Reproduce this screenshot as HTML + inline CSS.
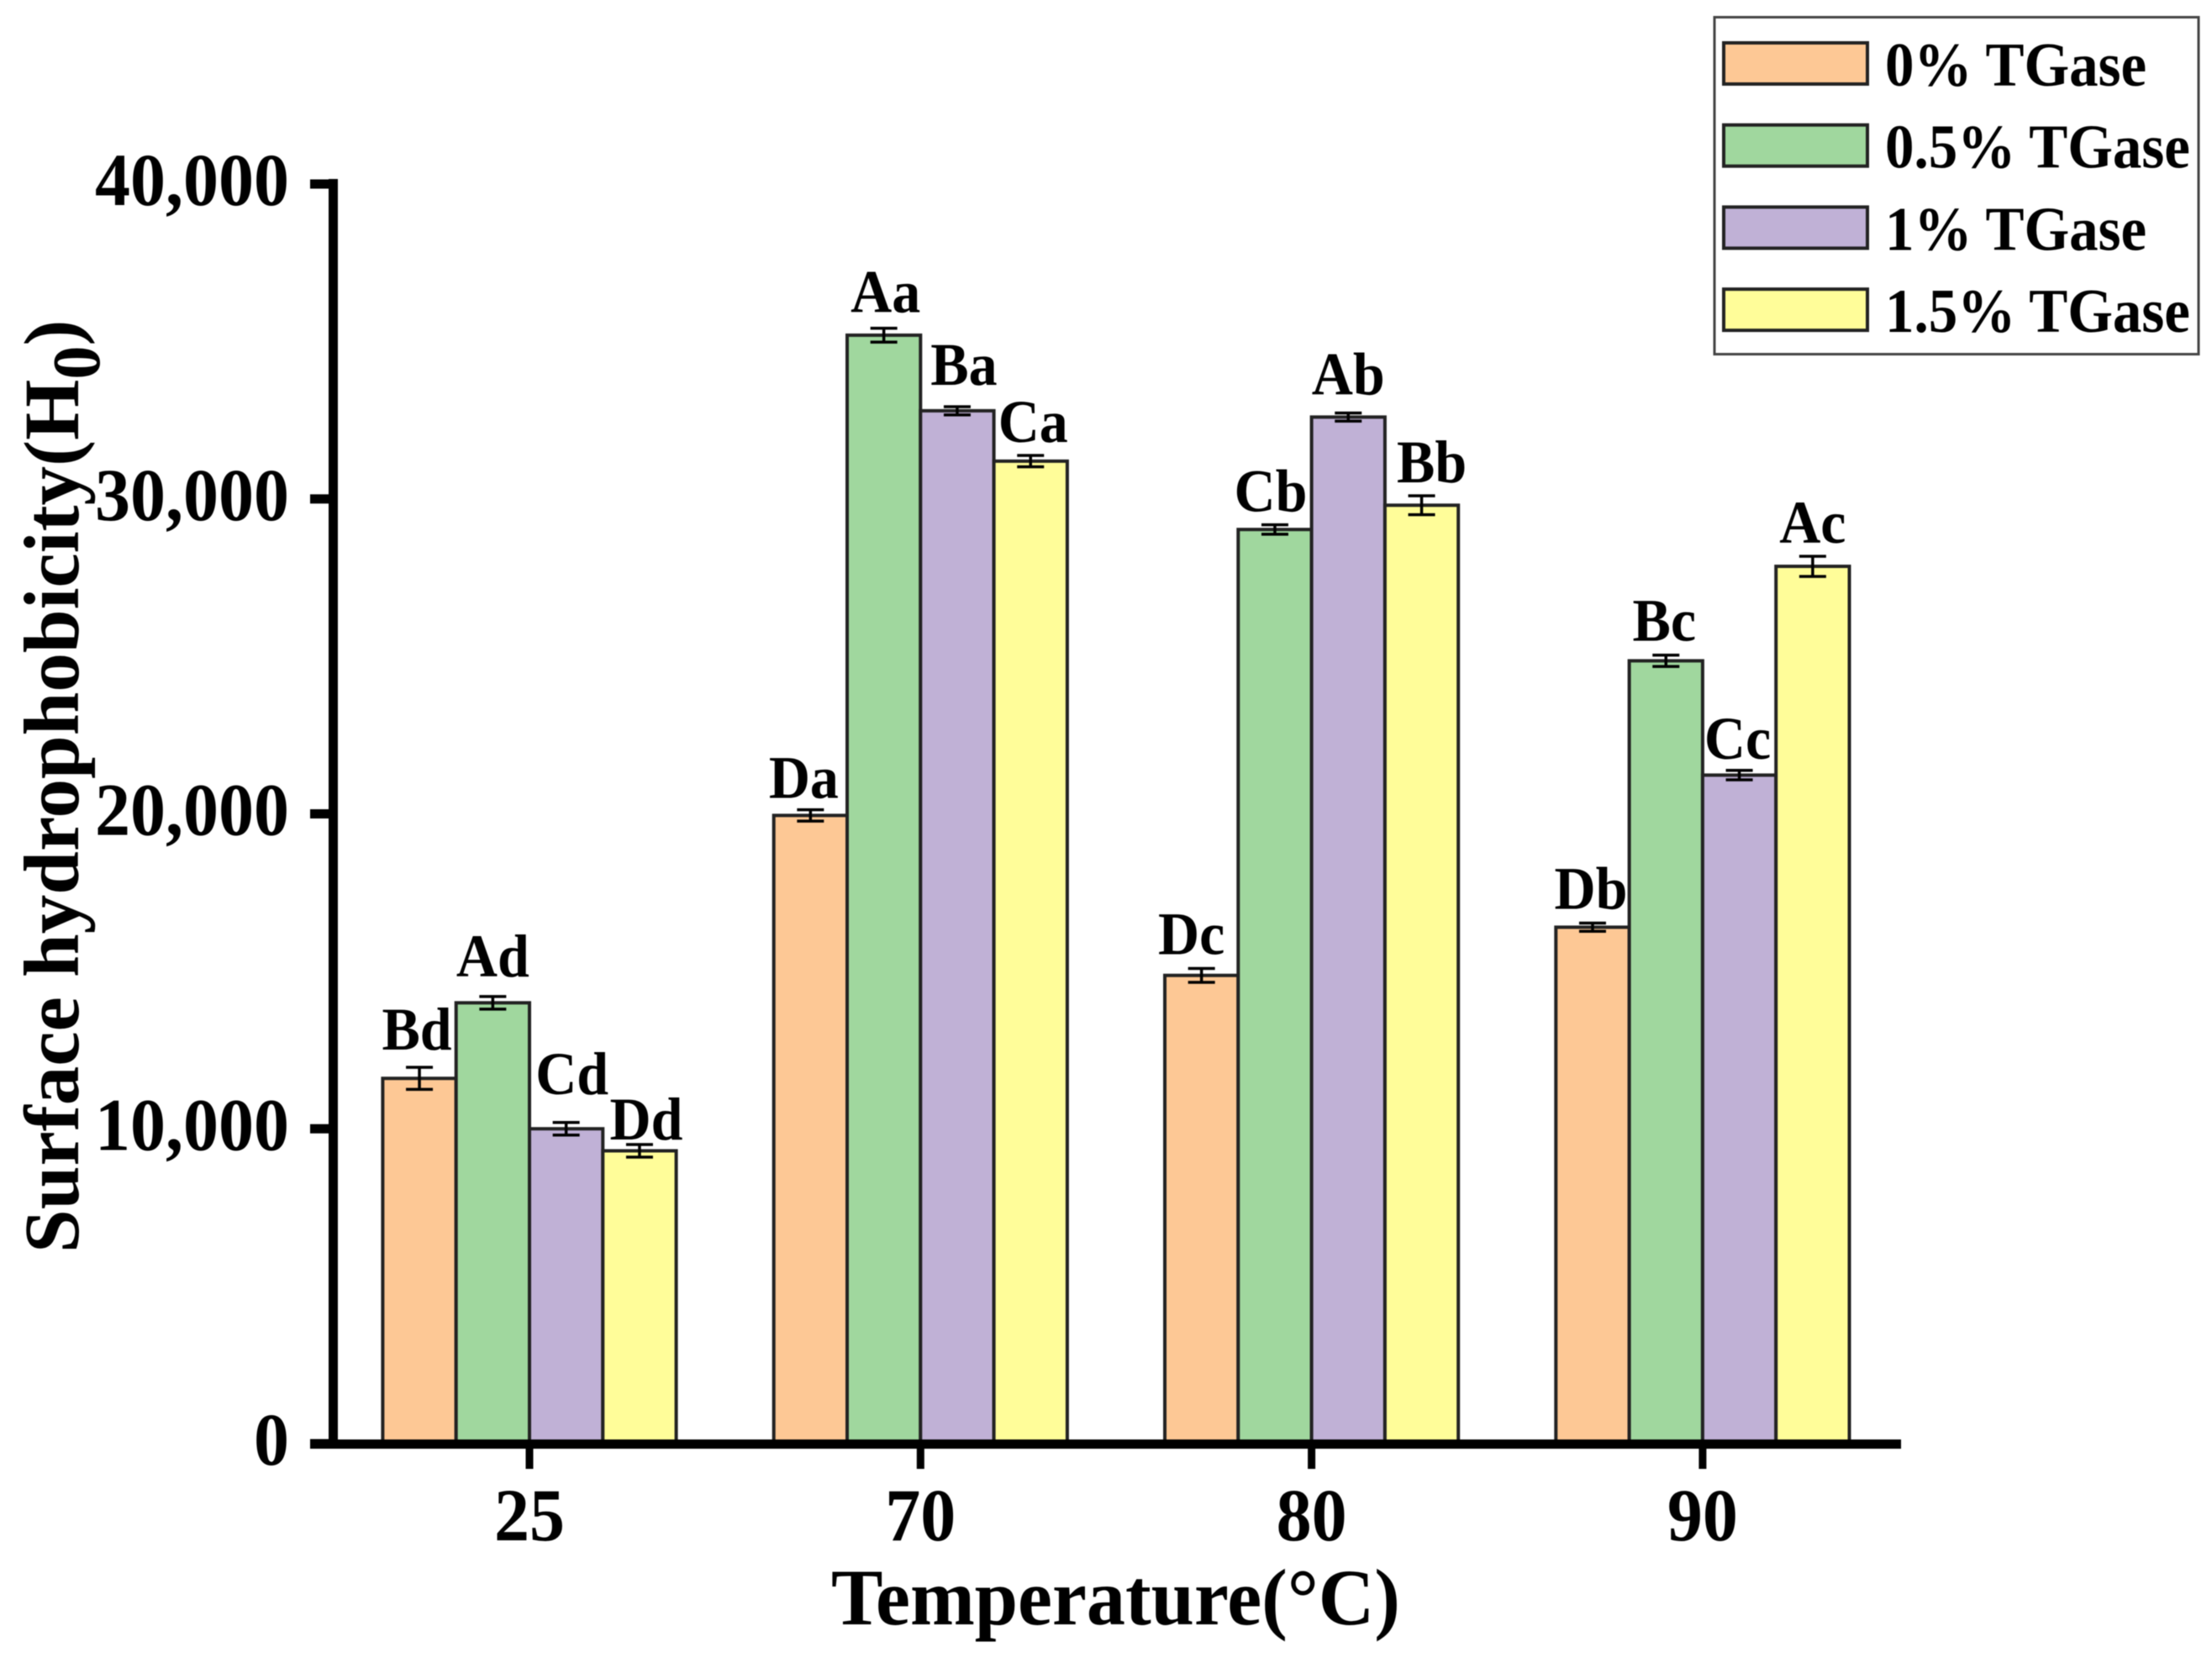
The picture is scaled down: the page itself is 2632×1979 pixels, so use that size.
<!DOCTYPE html>
<html lang="en">
<head>
<meta charset="utf-8">
<title>Surface hydrophobicity vs temperature</title>
<style>
html,body{margin:0;padding:0;background:#fff;}
svg{display:block;filter:blur(0.6px);}
text{font-family:"Liberation Serif","DejaVu Serif",serif;font-weight:bold;fill:#000;}
</style>
</head>
<body>
<svg id="chart" xmlns="http://www.w3.org/2000/svg" width="2632" height="1979" viewBox="0 0 2632 1979">
<rect x="0" y="0" width="2632" height="1979" fill="#fff"/>
<text transform="translate(989 1933) scale(1 1.04)" font-size="92" textLength="677" lengthAdjust="spacingAndGlyphs">Temperature(°C)</text>
<text transform="translate(93 1491) rotate(-90)" font-size="93">Surface hydrophobicity(H<tspan font-size="80" dy="25">0</tspan><tspan dy="-25">)</tspan></text>
</svg>
<script>
const categories = ['25', '70', '80', '90'];
const seriesNames = ['0% TGase', '0.5% TGase', '1% TGase', '1.5% TGase'];
const valuesTG0 = [11600, 19950, 14870, 16400];
const valuesTG05 = [14000, 35200, 29030, 24860];
const valuesTG1 = [10000, 32800, 32600, 21230];
const valuesTG15 = [9300, 31200, 29800, 27860];
const errorsTG0 = [350, 180, 220, 130];
const errorsTG05 = [200, 220, 150, 180];
const errorsTG1 = [200, 130, 130, 150];
const errorsTG15 = [200, 180, 300, 320];
const lettersTG0 = ['Bd', 'Da', 'Dc', 'Db'];
const lettersTG05 = ['Ad', 'Aa', 'Cb', 'Bc'];
const lettersTG1 = ['Cd', 'Ba', 'Ab', 'Cc'];
const lettersTG15 = ['Dd', 'Ca', 'Bb', 'Ac'];
const yTicks = [0, 10000, 20000, 30000, 40000];
const yTickLabels = ['0', '10,000', '20,000', '30,000', '40,000'];

const svg = document.getElementById('chart');
const NS = 'http://www.w3.org/2000/svg';
const seriesValues = [valuesTG0, valuesTG05, valuesTG1, valuesTG15];
const seriesErrors = [errorsTG0, errorsTG05, errorsTG1, errorsTG15];
const seriesLetters = [lettersTG0, lettersTG05, lettersTG1, lettersTG15];
const seriesFills = ['#FDC895', '#A0D79E', '#C0B1D6', '#FFFD99'];
const seriesKeys = ['0pct', '0-5pct', '1pct', '1-5pct'];

function yScale(v) { return 1718 - (v / 40000) * 1499; }
function xGroup(i) { return 630 + i * 465.3; }
const barW = 87.3;
function xBar(i, j) { return xGroup(i) + (j - 2) * barW; }

function make(tag, attrs, text) {
  const node = document.createElementNS(NS, tag);
  for (const k in attrs) node.setAttribute(k, attrs[k]);
  if (text !== undefined) node.textContent = text;
  svg.appendChild(node);
  return node;
}

function drawBars() {
  // placement tweaks for letter labels, in px relative to the error-bar default
  const liftY = [[7, 0, 3, 3], [10, 5, 2, 3], [20, 12, 8, 0], [-8, 2, 2, 2]];
  const shiftX = [[-3, -8, -12, -2], [0, 2, -5, -2], [7, 8, 0, -2], [8, 3, 12, 0]];
  seriesValues.forEach(function (vals, j) {
    vals.forEach(function (v, i) {
      const top = yScale(v);
      const bar = make('rect', { x: xBar(i, j), y: top, width: barW, height: 1718 - top, fill: seriesFills[j], stroke: '#222', 'stroke-width': 4 });
      
      
    });
  });
  seriesValues.forEach(function (vals, j) {
    vals.forEach(function (v, i) {
      const cx = xBar(i, j) + barW / 2;
      const e = seriesErrors[j][i];
      const y1 = yScale(v + e);
      const y2 = yScale(v - e);
      const stem = make('line', { x1: cx, x2: cx, y1: y1, y2: y2, stroke: '#000', 'stroke-width': 3.5 });
      
      
      const capTop = make('line', { x1: cx - 16, x2: cx + 16, y1: y1, y2: y1, stroke: '#000', 'stroke-width': 3.5 });
      
      
      const capBot = make('line', { x1: cx - 16, x2: cx + 16, y1: y2, y2: y2, stroke: '#000', 'stroke-width': 3.5 });
      
      
      const lx = cx + shiftX[j][i];
      const ly = y1 - 14 - liftY[j][i];
      const letter = make('text', { transform: 'translate(' + lx + ' ' + ly + ') scale(1 1.06)', 'font-size': 68, 'text-anchor': 'middle' }, seriesLetters[j][i]);
      
      
    });
  });
}

function drawAxes() {
  const yLine = make('rect', { x: 391, y: 213, width: 11, height: 1511, fill: '#000' });
  
  
  const xLine = make('rect', { x: 369, y: 1713, width: 1893, height: 11, fill: '#000' });
  
  
  yTicks.forEach(function (t, k) {
    const y = yScale(t);
    const tick = make('rect', { x: 369, y: y - 5.5, width: 25, height: 11, fill: '#000' });
    
    
    const label = make('text', { transform: 'translate(344 ' + (y + 25) + ') scale(1 1.06)', 'font-size': 84, 'text-anchor': 'end' }, yTickLabels[k]);
    
    
  });
  categories.forEach(function (c, i) {
    const x = xGroup(i);
    const tick = make('rect', { x: x - 4.5, y: 1720, width: 9, height: 28, fill: '#000' });
    
    
    const label = make('text', { transform: 'translate(' + x + ' 1833) scale(1 1.06)', 'font-size': 84, 'text-anchor': 'middle' }, c);
    
    
  });
}

function drawLegend() {
  const box = make('rect', { x: 2040, y: 20.5, width: 576, height: 401, fill: '#fff', stroke: '#444', 'stroke-width': 3 });
  
  
  seriesNames.forEach(function (name, j) {
    const swatchTop = 51 + j * 97.7;
    const swatch = make('rect', { x: 2051, y: swatchTop, width: 171, height: 49, fill: seriesFills[j], stroke: '#222', 'stroke-width': 4 });
    
    
    const label = make('text', { transform: 'translate(2243 ' + (swatchTop + 51) + ') scale(1 1.08)', 'font-size': 69 }, name);
    
    
  });
}

drawBars();
drawAxes();
drawLegend();
</script>
</body>
</html>
